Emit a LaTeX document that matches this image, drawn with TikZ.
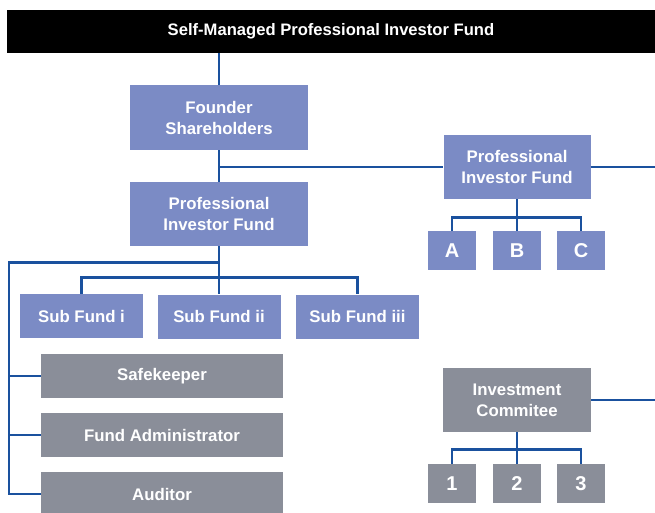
\documentclass[tikz,border=0pt]{standalone}
\usepackage{fontspec}
\setmainfont{Liberation Sans}
\definecolor{fundblue}{HTML}{7B8BC5}
\definecolor{svcgray}{HTML}{8A8E99}
\definecolor{linkblue}{HTML}{1A519E}
\begin{document}
\begin{tikzpicture}[x=1pt, y=-1pt,
		box/.style 2 args = {inner sep=0pt, align=center, text=white,
			minimum width=#1pt, minimum height=#2pt,
			font=\fontsize{16.8}{21}\selectfont\bfseries},
		fundbox/.style 2 args = {box={#1}{#2}, fill=fundblue},
		svcbox/.style 2 args = {box={#1}{#2}, fill=svcgray},
		small/.style = {font=\fontsize{20}{22}\selectfont\bfseries},
		link/.style = {draw=linkblue, line width=2.8pt}]
	\useasboundingbox (0,0) rectangle (655,512);
	\coordinate (edgeL) at (9,0);
	\coordinate (edgeR) at (655,0);

	% heading bar
	\node [fill=black, minimum width=648pt, minimum height=43pt, inner sep=0pt] (bar) at (331,31.5) {};
	\node [text=white, font=\fontsize{16.6}{20}\selectfont\bfseries] (title) at (bar.center) {Self-Managed Professional Investor Fund};

	% blue boxes
	\node [fundbox={178}{65}] (founder) at (219,117.5) {Founder\\Shareholders};
	\node [fundbox={178}{64}] (pifL) at (219,214) {Professional\\Investor Fund};
	\node [fundbox={147}{64}] (pifR) at (517,167) {Professional\\Investor Fund};
	\node [fundbox={48}{39}, small] (A) at (452,250.5) {A};
	\node [fundbox={48}{39}, small] (B) at (517,250.5) {B};
	\node [fundbox={48}{39}, small] (C) at (581,250.5) {C};
	\node [fundbox={123}{44}] (sub1) at (81.5,316) {Sub Fund i};
	\node [fundbox={123}{44}] (sub2) at (219,316.5) {Sub Fund ii};
	\node [fundbox={123}{44}] (sub3) at (357.5,316.5) {Sub Fund iii};

	% grey boxes
	\node [svcbox={242}{44}] (safe) at (162,376) {Safekeeper};
	\node [svcbox={242}{44}] (admin) at (162,435) {Fund Administrator};
	\node [svcbox={242}{44}] (auditor) at (162,494) {Auditor};
	\node [svcbox={148}{64}] (invest) at (517,400) {Investment\\Commitee};
	\node [svcbox={48}{39}, small] (n1) at (452,483.5) {1};
	\node [svcbox={48}{39}, small] (n2) at (517,483.5) {2};
	\node [svcbox={48}{39}, small] (n3) at (581,483.5) {3};

	% connectors
	\draw [link] (founder.north) -- (founder.north |- bar.south);
	\draw [link] (founder.south) -- (pifL.north);
	\draw [link] (founder.south |- pifR.west) -- (pifR.west);
	\draw [link] (pifR.east) -- (pifR.east -| edgeR);
	\draw [link] (invest.east) -- (invest.east -| edgeR);

	\draw [link] (pifR.south) -- ++(0,18) coordinate (abcbus);
	\draw [link] (A.north) |- (abcbus) -| (C.north);
	\draw [link] (abcbus) -- (B.north);

	\draw [link] (invest.south) -- ++(0,17) coordinate (numbus);
	\draw [link] (n1.north) |- (numbus) -| (n3.north);
	\draw [link] (numbus) -- (n2.north);

	\draw [link] (pifL.south) -- ++(0,31) coordinate (subbus);
	\draw [link] (sub1.north) |- (subbus) -| (sub3.north);
	\draw [link] (subbus) -- (sub2.north);

	\draw [link] (pifL.south) ++(0,16) coordinate (svcbus) -| (edgeL |- auditor.west) -- (auditor.west);
	\draw [link] (edgeL |- safe.west) -- (safe.west);
	\draw [link] (edgeL |- admin.west) -- (admin.west);
\end{tikzpicture}
\end{document}
